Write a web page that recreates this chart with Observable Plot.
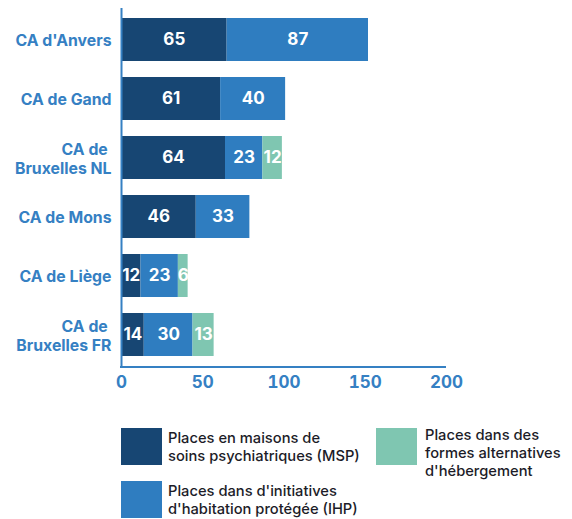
<!DOCTYPE html>
<html>
<head>
<meta charset="utf-8">
<script src="https://cdn.jsdelivr.net/npm/d3@7"></script>
<script src="https://cdn.jsdelivr.net/npm/@observablehq/plot@0.6"></script>
<style>
  html, body { margin: 0; padding: 0; background: #fff; }
  #wrap { position: relative; width: 572px; height: 519px; font-family: Inter, "Noto Sans", sans-serif; }
  .sw { position: absolute; width: 41px; height: 37px; }
  .lt { position: absolute; font-size: 14.7px; line-height: 18px; color: #1c1c28; font-weight: 500; }
</style>
</head>
<body>
<div id="wrap">
  <div id="chart"></div>
</div>
<script>
const categories = ["CA d'Anvers", "CA de Gand", "CA de\u00a0\nBruxelles NL", "CA de Mons", "CA de Liège", "CA de\u00a0\nBruxelles FR"];
const seriesNames = ["Places en maisons de soins psychiatriques (MSP)", "Places dans d'initiatives d'habitation protégée (IHP)", "Places dans des formes alternatives d'hébergement"];
const msp = [65, 61, 64, 46, 12, 14];
const ihp = [87, 40, 23, 33, 23, 30];
const alt = [0, 0, 12, 0, 6, 13];
const xTicks = [0, 50, 100, 150, 200];
const colors = ["#174673", "#2f7dc0", "#7fc6b1"];
const axisColor = "#3580c3";

const seriesValues = [msp, ihp, alt];
const data = [];
categories.forEach((c, i) => {
  seriesValues.forEach((vals, s) => {
    if (vals[i] > 0) data.push({cat: c, series: seriesNames[s], value: vals[i]});
  });
});

const chart = Plot.plot({
  width: 572,
  height: 400,
  marginLeft: 121,
  marginRight: 126,
  marginTop: 8,
  marginBottom: 33,
  style: {fontFamily: "Inter, 'Noto Sans', sans-serif", color: axisColor, background: "#fff"},
  x: {domain: [0, 200]},
  y: {domain: categories, range: [16, 359], paddingInner: 0.267, paddingOuter: 0},
  color: {domain: seriesNames, range: colors},
  marks: [
    Plot.barX(data, {x: "value", y: "cat", fill: "series", order: seriesNames}),
    Plot.text(data, Plot.stackX({x: "value", y: "cat", z: "series", order: seriesNames, text: d => String(d.value), fill: "white", fontSize: 17, fontWeight: 700})),
    Plot.ruleX([0], {stroke: axisColor, strokeWidth: 2}),
    Plot.axisX({ticks: xTicks, tickSize: 0, tickPadding: 8, fontSize: 17, fontWeight: 700, fill: axisColor, label: null}),
    Plot.axisY({tickSize: 0, tickPadding: 10, fontSize: 15.8, fontWeight: 700, fill: axisColor, lineHeight: 1.2, label: null})
  ]
});
document.getElementById("chart").appendChild(chart);

// x axis baseline drawn through the x scale
const sx = chart.scale("x");
const svg = d3.select(chart);
svg.append("line")
  .attr("x1", sx.apply(0) - 1).attr("x2", sx.apply(200))
  .attr("y1", 367).attr("y2", 367)
  .attr("stroke", axisColor).attr("stroke-width", 2);

// legend
const wrap = document.getElementById("wrap");
const legendItems = [
  {name: "Places en maisons de<br>soins psychiatriques (MSP)", color: colors[0], sx: 121, sy: 428, tx: 168, ty: 429},
  {name: "Places dans d'initiatives<br>d'habitation protégée (IHP)", color: colors[1], sx: 121, sy: 481, tx: 168, ty: 482},
  {name: "Places dans des<br>formes alternatives<br>d'hébergement", color: colors[2], sx: 376, sy: 428, tx: 425, ty: 426}
];
legendItems.forEach(it => {
  const s = document.createElement("div");
  s.className = "sw";
  s.style.left = it.sx + "px"; s.style.top = it.sy + "px"; s.style.background = it.color;
  wrap.appendChild(s);
  const t = document.createElement("div");
  t.className = "lt";
  t.style.left = it.tx + "px"; t.style.top = it.ty + "px";
  t.innerHTML = it.name;
  wrap.appendChild(t);
});
</script>
</body>
</html>
